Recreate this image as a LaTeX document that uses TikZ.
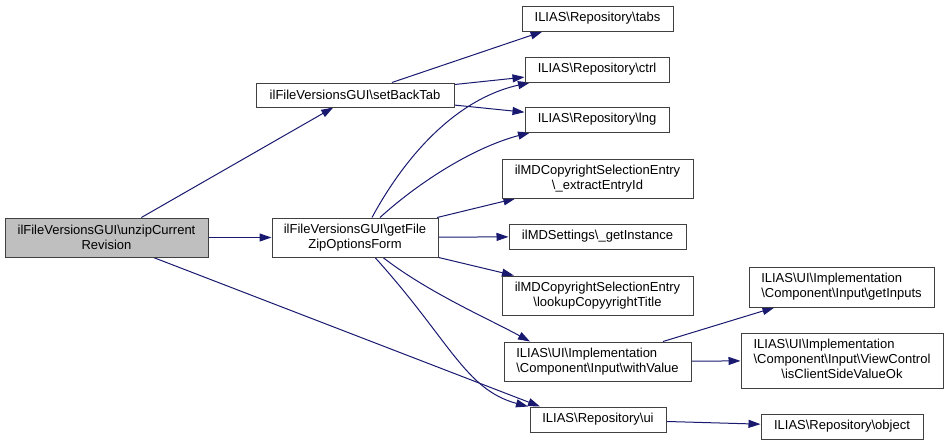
\documentclass[tikz,border=0pt]{standalone}
\usepackage{fontspec}
\setmainfont{Liberation Sans}
\usetikzlibrary{arrows.meta,backgrounds}
\newcommand\bsl{\textbackslash}
\definecolor{edgeblue}{HTML}{191970}
\definecolor{rootgray}{HTML}{BFBFBF}
\begin{document}
\begin{tikzpicture}[x=1pt, y=-1pt,
box/.style={draw=black!75, line width=1pt, fill=white, inner sep=2pt, align=center, font=\fontsize{13}{15}\selectfont},
call/.style={edgeblue, line width=1pt, -{Triangle[length=12pt, width=8pt]}}]
\useasboundingbox (0,0) rectangle (948,445);
\node[box, fill=rootgray, minimum width=203pt, minimum height=39pt] (unzip) at (106.5,237.5) {ilFileVersionsGUI\bsl unzipCurrent\\Revision};
\node[box, minimum width=166pt, minimum height=39pt] (getfile) at (355,237.5) {ilFileVersionsGUI\bsl getFile\\ZipOptionsForm};
\node[box, minimum width=198pt, minimum height=24pt] (setback) at (355,95) {ilFileVersionsGUI\bsl setBackTab};
\node[box, minimum width=151pt, minimum height=25pt] (tabs) at (597.5,18.5) {ILIAS\bsl Repository\bsl tabs};
\node[box, minimum width=144pt, minimum height=25pt] (ctrl) at (597,69.5) {ILIAS\bsl Repository\bsl ctrl};
\node[box, minimum width=144pt, minimum height=25pt] (lng) at (597,119.5) {ILIAS\bsl Repository\bsl lng};
\node[box, minimum width=191pt, minimum height=39pt] (extract) at (597.5,178.5) {ilMDCopyrightSelectionEntry\\\bsl\_extractEntryId};
\node[box, minimum width=177pt, minimum height=25pt] (getinst) at (597.5,236.5) {ilMDSettings\bsl\_getInstance};
\node[box, minimum width=191pt, minimum height=39pt] (lookup) at (597.5,295.5) {ilMDCopyrightSelectionEntry\\\bsl lookupCopyyrightTitle};
\node[box, align=left, minimum width=187pt, minimum height=39pt] (withvalue) at (597.5,361.5) {ILIAS\bsl UI\bsl Implementation\\\bsl Component\bsl Input\bsl withValue};
\node[box, minimum width=136pt, minimum height=25pt] (ui) at (598,419.5) {ILIAS\bsl Repository\bsl ui};
\node[box, align=left, minimum width=185pt, minimum height=40pt] (getinputs) at (841.5,287) {ILIAS\bsl UI\bsl Implementation\\\bsl Component\bsl Input\bsl getInputs};
\node[box, minimum width=202pt, minimum height=55pt] (isclient) at (842,360.5) {\begin{tabular}{@{}l@{}}ILIAS\bsl UI\bsl Implementation\\\bsl Component\bsl Input\bsl ViewControl\\\multicolumn{1}{@{}c@{}}{\bsl isClientSideValueOk}\end{tabular}};
\node[box, minimum width=162pt, minimum height=25pt] (object) at (842,426.5) {ILIAS\bsl Repository\bsl object};

\begin{scope}[on background layer]
\draw[call] (unzip) -- (setback);
\draw[call] (unzip) -- (getfile);
\draw[call] ([xshift=47pt]unzip.south) -- ([xshift=-58pt]ui.north);
\draw[call] (setback) -- ([xshift=-55pt]tabs.south);
\draw[call] (setback) -- (ctrl);
\draw[call] (setback) -- (lng);
\draw[call] ([xshift=17pt]getfile.north) .. controls +(28,-52) and +(-80,18) .. ([xshift=-67pt]ctrl.south);
\draw[call] ([xshift=25pt]getfile.north) .. controls +(35,-32) and +(-60,16) .. ([xshift=-67pt]lng.south);
\draw[call] (getfile) -- (extract);
\draw[call] (getfile) -- (getinst);
\draw[call] (getfile) -- (lookup);
\draw[call] ([xshift=28pt]getfile.south) .. controls +(45,35) and +(-40,-22) .. ([xshift=-67.5pt]withvalue.north);
\draw[call] ([xshift=20pt]getfile.south) .. controls +(75,83) and +(-63,-17) .. ([xshift=-70pt]ui.north);
\draw[call] (withvalue) -- (getinputs);
\draw[call] (withvalue) -- (isclient);
\draw[call] (ui) -- (object);
\end{scope}
\end{tikzpicture}
\end{document}
